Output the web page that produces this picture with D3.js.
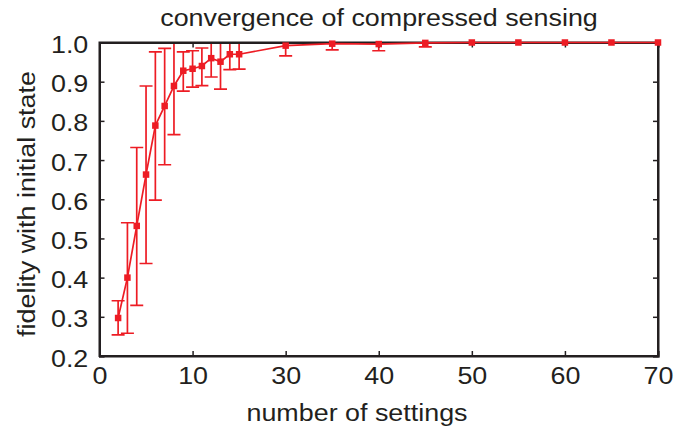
<!DOCTYPE html>
<html>
<head>
<meta charset="utf-8">
<script src="https://cdn.jsdelivr.net/npm/d3@7"></script>
<style>
  html, body { margin: 0; padding: 0; background: #fff; }
  svg { display: block; }
  text { font-family: "Liberation Sans", Arial, Helvetica, sans-serif; fill: #231f20; }
</style>
</head>
<body>
<svg id="chart" width="674" height="430"></svg>
<script>
// ---- data ----
const settings = [2,3,4,5,6,7,8,9,10,11,12,13,14,15,30,35,40,45,50,55,60,65,70];
const fidelity = [0.297,0.400,0.532,0.663,0.788,0.838,0.889,0.928,0.933,0.940,0.960,0.951,0.970,0.970,0.992,0.997,0.996,0.999,1.000,1.000,1.000,1.000,1.000];
const upperErr = [0.341,0.540,0.732,0.889,0.976,0.985,1.020,0.976,0.979,0.986,1.020,1.020,1.020,1.020,1.020,1.010,1.010,1.004,1.000,1.000,1.000,1.000,1.000];
const lowerErr = [0.254,0.258,0.329,0.436,0.598,0.688,0.765,0.876,0.886,0.890,0.912,0.881,0.931,0.932,0.966,0.981,0.979,0.989,1.000,1.000,1.000,1.000,1.000];
const xTicks = [0,10,30,40,50,60,70];
const yTicks = [0.2,0.3,0.4,0.5,0.6,0.7,0.8,0.9,1.0];
const titleText = "convergence of compressed sensing";
const xLabel = "number of settings";
const yLabel = "fidelity with initial state";

// ---- layout ----
const svg = d3.select("#chart");
const m = {left: 99.5, top: 42.5, right: 16, bottom: 74};
const W = 674 - m.left - m.right;
const H = 430 - m.top - m.bottom;
const red = "#ed1c24";
const ink = "#231f20";
const FS = "24px";
const STRETCH = "scale(1.12,1)";

// broken x axis: 0..15 linear, then 30..70 placed after the "10" tick
const x = d3.scaleLinear().domain([0, 15, 30, 70]).range([0, W*15/60, W*20/60, W]);
const y = d3.scaleLinear().domain([0.2, 1.0]).range([H, 0]);

const g = svg.append("g").attr("transform", `translate(${m.left},${m.top})`);

svg.append("defs").append("clipPath").attr("id", "clip")
  .append("rect").attr("x", -20).attr("y", 0).attr("width", W + 40).attr("height", H + 20);

const rows = settings.map((s, i) => ({s, f: fidelity[i], hi: upperErr[i], lo: lowerErr[i]}));

// error bars
const eb = g.append("g").attr("clip-path", "url(#clip)")
  .attr("stroke", red).attr("stroke-width", 1.7).attr("fill", "none");
const capW = 6.5;
rows.filter(d => d.hi - d.lo > 1e-6).forEach(d => {
  const cx = x(d.s);
  eb.append("line").attr("x1", cx).attr("x2", cx).attr("y1", y(d.lo)).attr("y2", y(d.hi));
  eb.append("line").attr("x1", cx - capW).attr("x2", cx + capW).attr("y1", y(d.lo)).attr("y2", y(d.lo));
  eb.append("line").attr("x1", cx - capW).attr("x2", cx + capW).attr("y1", y(d.hi)).attr("y2", y(d.hi));
});

// axes (box with inward ticks)
const axB = d3.axisBottom(x).tickValues(xTicks).tickSize(-5).tickFormat(d3.format("d")).tickPadding(11);
const axT = d3.axisTop(x).tickValues(xTicks).tickSize(-5).tickFormat("");
const axL = d3.axisLeft(y).tickValues(yTicks).tickSize(-5).tickFormat(d3.format(".1f")).tickPadding(10);
const axR = d3.axisRight(y).tickValues(yTicks).tickSize(-5).tickFormat("");

function style(sel) {
  sel.select(".domain").attr("stroke", ink).attr("stroke-width", 2);
  sel.selectAll(".tick line").attr("stroke", ink).attr("stroke-width", 1.5);
  sel.selectAll(".tick text").attr("fill", ink).style("font-size", FS)
     .style("font-family", '"Liberation Sans", Arial, sans-serif')
     .attr("transform", STRETCH);
}
g.append("g").attr("transform", `translate(0,${H})`).call(axB).call(style);
g.append("g").call(axT).call(style);
g.append("g").call(axL).call(style).selectAll(".tick text").attr("dy", "0.42em");
g.append("g").attr("transform", `translate(${W},0)`).call(axR).call(style);
g.append("rect").attr("x", 0).attr("y", 0).attr("width", W).attr("height", H)
  .attr("fill", "none").attr("stroke", ink).attr("stroke-width", 2);

// line
g.append("path").datum(rows)
  .attr("fill", "none").attr("stroke", red).attr("stroke-width", 1.7)
  .attr("d", d3.line().x(d => x(d.s)).y(d => y(d.f)));

// markers
const ms = 6.5;
g.selectAll("rect.mk").data(rows).join("rect").attr("class", "mk")
  .attr("x", d => x(d.s) - ms/2).attr("y", d => y(d.f) - ms/2)
  .attr("width", ms).attr("height", ms).attr("fill", red);

// titles
svg.append("text").attr("transform", `translate(379,26) ${STRETCH}`).attr("text-anchor", "middle")
  .style("font-size", FS).text(titleText);
svg.append("text").attr("transform", `translate(357,421) ${STRETCH}`).attr("text-anchor", "middle")
  .style("font-size", FS).text(xLabel);
svg.append("text").attr("transform", `translate(35,204) rotate(-90) ${STRETCH}`)
  .attr("text-anchor", "middle").style("font-size", FS).text(yLabel);
</script>
</body>
</html>
